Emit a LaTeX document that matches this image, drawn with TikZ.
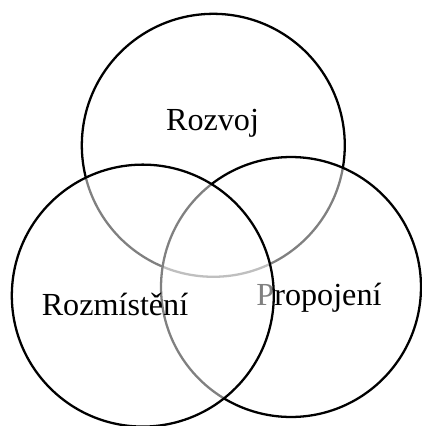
\documentclass[tikz,border=0pt]{standalone}
\usepackage{fontspec}
\setmainfont{Liberation Serif}
\usepackage{tikz}
\usetikzlibrary{positioning}

\begin{document}
\begin{tikzpicture}[
        x=0.02cm, y=-0.02cm,
        ring/.style={circle, draw=black, line width=1.3pt, fill=white, fill opacity=0.5, draw opacity=1, inner sep=0pt},
        label/.style={anchor=base, font=\fontsize{18.3}{22}\selectfont, inner sep=0pt}
    ]
    \useasboundingbox (0,0) rectangle (422,426);

    % Circles and texts (order matters)
    \node (rozvoj) [ring, minimum size=5.26cm] at (213.3,145.3) {};
    \node (trozvoj) [label] at (212.5,130) {Rozvoj};
    \node (propojeni) [ring, minimum size=5.2cm] at (291,287) {};
    \node (tpropojeni) [label] at (319,305) {Propojení};
    \node (rozmisteni) [ring, minimum size=5.24cm] at (142.8,295.6) {};
    \node (trozmisteni) [label] at (115,315) {Rozmístění};

    \end{tikzpicture}
\end{document}
